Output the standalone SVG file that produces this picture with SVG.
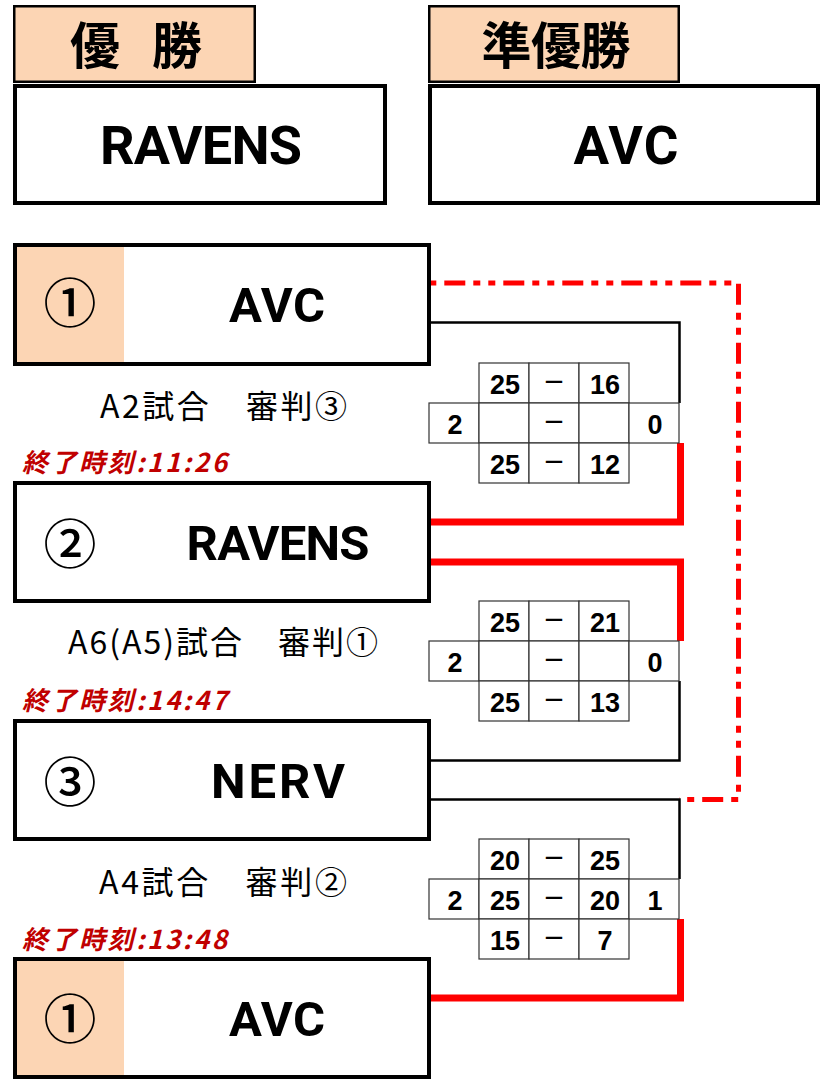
<svg xmlns="http://www.w3.org/2000/svg" width="820" height="1081" viewBox="0 0 820 1081">
<style>
.hdr{fill:#FCD5B4;stroke:#000;stroke-width:2.5}
.box{fill:#fff;stroke:#000;stroke-width:4}
.peach{fill:#FCD5B4}
.hdrt{font-family:"Noto Sans CJK JP","Noto Sans CJK SC",sans-serif;font-weight:700;font-size:50px;fill:#000;text-anchor:middle}
.team{font-family:Roboto,"Liberation Sans",sans-serif;font-weight:700;font-size:49px;fill:#000;text-anchor:middle}
.big{font-size:54px}
.num{font-family:"Noto Sans CJK JP",sans-serif;font-weight:500;font-size:53px;fill:#000;text-anchor:middle}
.lbl{font-family:"Noto Sans CJK JP",sans-serif;font-size:32px;fill:#000;text-anchor:middle}
.time{font-family:"Noto Sans CJK JP",sans-serif;font-weight:700;font-style:italic;font-size:26px;fill:#C00000}
.cell{fill:#fff;stroke:#333;stroke-width:1.2}
.sc{font-family:"Liberation Sans",Arial,sans-serif;font-weight:700;font-size:27px;fill:#000;text-anchor:middle}
.dash{font-family:"Noto Sans CJK JP",sans-serif;font-weight:700;font-size:23px;fill:#000;text-anchor:middle}
.blk{fill:none;stroke:#000;stroke-width:2.5}
.red{fill:none;stroke:#FF0000;stroke-width:7}
.dd{fill:none;stroke:#FF0000;stroke-width:5;stroke-dasharray:21 8 7 8 7 8;stroke-dashoffset:45.7}
</style>

<!-- connectors -->
<g id="connectors">
  <path class="dd" d="M431,283 H738.5 V799.5 H679"/>
  <path class="blk" d="M431,322.5 H679.5 V403"/>
  <path class="red" d="M680.5,443 V522 H431"/>
  <path class="red" d="M431,562 H680.5 V641"/>
  <path class="blk" d="M679.5,681 V760.5 H431"/>
  <path class="blk" d="M431,799.5 H679.5 V879"/>
  <path class="red" d="M680.5,919 V998 H431"/>
</g>

<!-- champion -->
<g id="champion">
  <rect class="hdr" x="14.25" y="6.25" width="240.5" height="75.5"/>
  <text class="hdrt" x="136" y="64" textLength="132">優 勝</text>
  <rect class="box" x="15" y="86" width="370" height="117"/>
  <text class="team big" x="201" y="164" textLength="202">RAVENS</text>
</g>

<!-- runner-up -->
<g id="runnerup">
  <rect class="hdr" x="429.25" y="6.25" width="249.5" height="75.5"/>
  <text class="hdrt" x="556" y="64" textLength="149">準優勝</text>
  <rect class="box" x="430" y="86" width="388" height="117"/>
  <text class="team" style="font-size:53px" x="626" y="164" textLength="105">AVC</text>
</g>

<!-- team boxes -->
<g id="team1">
  <rect class="box" x="15" y="245" width="414" height="119"/>
  <rect class="peach" x="17" y="247" width="107" height="115"/>
  <text class="num" x="70" y="322.5">①</text>
  <text class="team" x="277" y="322" textLength="96">AVC</text>
</g>
<g id="team2">
  <rect class="box" x="15" y="483" width="414" height="118"/>
  <text class="num" x="70" y="563.5">②</text>
  <text class="team" x="278" y="559.5" textLength="183">RAVENS</text>
</g>
<g id="team3">
  <rect class="box" x="15" y="721" width="414" height="118"/>
  <text class="num" x="70" y="801.5">③</text>
  <text class="team" x="278" y="797.5" textLength="134">NERV</text>
</g>
<g id="team4">
  <rect class="box" x="15" y="959" width="414" height="118"/>
  <rect class="peach" x="17" y="961" width="107" height="114"/>
  <text class="num" x="70" y="1038.5">①</text>
  <text class="team" x="277" y="1035.5" textLength="96">AVC</text>
</g>

<!-- match labels -->
<g id="labels">
  <text class="lbl" x="223.5" y="418" textLength="247">A2試合　審判③</text>
  <text class="time" x="22" y="472" textLength="205">終了時刻:11:26</text>
  <text class="lbl" x="223" y="654" textLength="310">A6(A5)試合　審判①</text>
  <text class="time" x="22" y="710" textLength="205">終了時刻:14:47</text>
  <text class="lbl" x="223" y="894" textLength="248">A4試合　審判②</text>
  <text class="time" x="22" y="949" textLength="205">終了時刻:13:48</text>
</g>

<!-- score table 1 -->
<g id="score1">
  <rect class="cell" x="479" y="363" width="50" height="40"/>
  <rect class="cell" x="529" y="363" width="50" height="40"/>
  <rect class="cell" x="579" y="363" width="50" height="40"/>
  <rect class="cell" x="429" y="403" width="50" height="40"/>
  <rect class="cell" x="479" y="403" width="50" height="40"/>
  <rect class="cell" x="529" y="403" width="50" height="40"/>
  <rect class="cell" x="579" y="403" width="50" height="40"/>
  <rect class="cell" x="629" y="403" width="50" height="40"/>
  <rect class="cell" x="479" y="443" width="50" height="40"/>
  <rect class="cell" x="529" y="443" width="50" height="40"/>
  <rect class="cell" x="579" y="443" width="50" height="40"/>
  <text class="sc" x="505" y="393.5">25</text>
  <text class="dash" x="554" y="390">－</text>
  <text class="sc" x="605" y="393.5">16</text>
  <text class="sc" x="455" y="433.5">2</text>
  <text class="dash" x="554" y="430">－</text>
  <text class="sc" x="655" y="433.5">0</text>
  <text class="sc" x="505" y="473.5">25</text>
  <text class="dash" x="554" y="470">－</text>
  <text class="sc" x="605" y="473.5">12</text>
</g>

<!-- score table 2 -->
<g id="score2">
  <rect class="cell" x="479" y="601" width="50" height="40"/>
  <rect class="cell" x="529" y="601" width="50" height="40"/>
  <rect class="cell" x="579" y="601" width="50" height="40"/>
  <rect class="cell" x="429" y="641" width="50" height="40"/>
  <rect class="cell" x="479" y="641" width="50" height="40"/>
  <rect class="cell" x="529" y="641" width="50" height="40"/>
  <rect class="cell" x="579" y="641" width="50" height="40"/>
  <rect class="cell" x="629" y="641" width="50" height="40"/>
  <rect class="cell" x="479" y="681" width="50" height="40"/>
  <rect class="cell" x="529" y="681" width="50" height="40"/>
  <rect class="cell" x="579" y="681" width="50" height="40"/>
  <text class="sc" x="505" y="631.5">25</text>
  <text class="dash" x="554" y="628">－</text>
  <text class="sc" x="605" y="631.5">21</text>
  <text class="sc" x="455" y="671.5">2</text>
  <text class="dash" x="554" y="668">－</text>
  <text class="sc" x="655" y="671.5">0</text>
  <text class="sc" x="505" y="711.5">25</text>
  <text class="dash" x="554" y="708">－</text>
  <text class="sc" x="605" y="711.5">13</text>
</g>

<!-- score table 3 -->
<g id="score3">
  <rect class="cell" x="479" y="839" width="50" height="40"/>
  <rect class="cell" x="529" y="839" width="50" height="40"/>
  <rect class="cell" x="579" y="839" width="50" height="40"/>
  <rect class="cell" x="429" y="879" width="50" height="40"/>
  <rect class="cell" x="479" y="879" width="50" height="40"/>
  <rect class="cell" x="529" y="879" width="50" height="40"/>
  <rect class="cell" x="579" y="879" width="50" height="40"/>
  <rect class="cell" x="629" y="879" width="50" height="40"/>
  <rect class="cell" x="479" y="919" width="50" height="40"/>
  <rect class="cell" x="529" y="919" width="50" height="40"/>
  <rect class="cell" x="579" y="919" width="50" height="40"/>
  <text class="sc" x="505" y="869.5">20</text>
  <text class="dash" x="554" y="866">－</text>
  <text class="sc" x="605" y="869.5">25</text>
  <text class="sc" x="455" y="909.5">2</text>
  <text class="sc" x="505" y="909.5">25</text>
  <text class="dash" x="554" y="906">－</text>
  <text class="sc" x="605" y="909.5">20</text>
  <text class="sc" x="655" y="909.5">1</text>
  <text class="sc" x="505" y="949.5">15</text>
  <text class="dash" x="554" y="946">－</text>
  <text class="sc" x="605" y="949.5">7</text>
</g>
</svg>
